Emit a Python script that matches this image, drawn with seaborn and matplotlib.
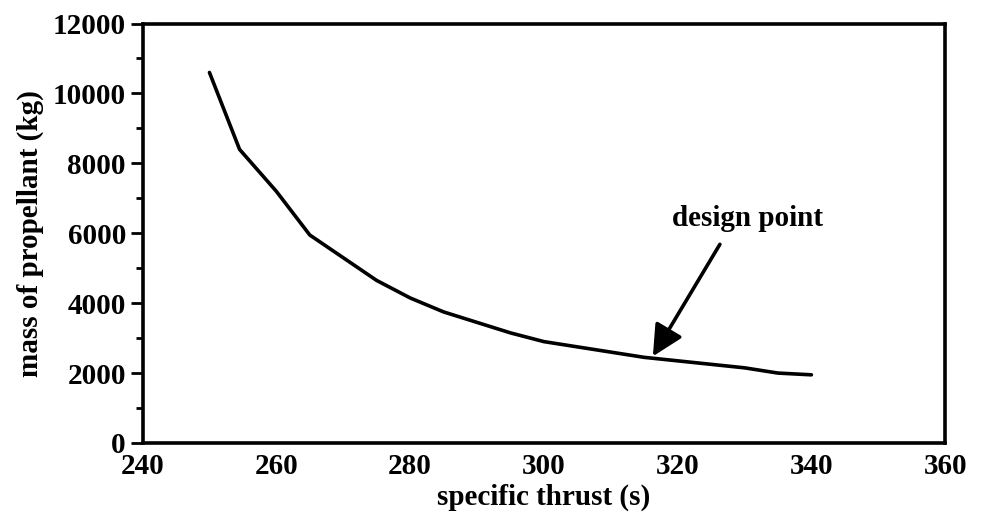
import pandas as pd
import matplotlib.pyplot as plt
import matplotlib.ticker as ticker
import seaborn as sns

# values
thrust = [250, 254.5, 260, 265, 270, 275, 280, 285, 290, 295, 300,
          305, 310, 315, 320, 325, 330, 335, 340]
propellant = [10600, 8400, 7200, 5950, 5300, 4650, 4150, 3750, 3450, 3150, 2900,
              2750, 2600, 2450, 2350, 2250, 2150, 2000, 1950]
x_ticks = [240, 260, 280, 300, 320, 340, 360]
y_ticks = [0, 2000, 4000, 6000, 8000, 10000, 12000]
design_pt = (316.3, 2480)
label_pt = (330.4, 6050)

df = pd.DataFrame({'thrust': thrust, 'propellant': propellant})

sns.set_style("ticks")
plt.rcParams['font.family'] = ['Liberation Serif', 'DejaVu Serif']
plt.rcParams['font.weight'] = 'bold'
plt.rcParams['text.color'] = 'black'
plt.rcParams['xtick.color'] = 'black'
plt.rcParams['ytick.color'] = 'black'
plt.rcParams['axes.labelcolor'] = 'black'

fig, ax = plt.subplots(figsize=(9.97, 5.23), dpi=100)
fig.subplots_adjust(left=0.143, right=0.948, top=0.955, bottom=0.153)

sns.lineplot(data=df, x='thrust', y='propellant', ax=ax, color='black', lw=2.6)

ax.set_xlim(240, 360)
ax.set_ylim(0, 12000)
ax.set_xticks(x_ticks)
ax.set_yticks(y_ticks)
ax.yaxis.set_minor_locator(ticker.MultipleLocator(1000))
ax.tick_params(axis='y', which='major', length=9, width=2, labelsize=21, pad=3)
ax.tick_params(axis='y', which='minor', length=5, width=2)
ax.tick_params(axis='x', length=0, labelsize=21, pad=7)
for s in ax.spines.values():
    s.set_linewidth(2.6)
    s.set_color('black')
    s.set_visible(True)

ax.set_xlabel("specific thrust (s)", fontsize=21, fontweight='bold', labelpad=3)
ax.set_ylabel("mass of propellant (kg)", fontsize=21, fontweight='bold', labelpad=6)

ax.annotate("design point", xy=design_pt, xytext=label_pt,
            ha='center', va='bottom', fontsize=21, fontweight='bold',
            arrowprops=dict(arrowstyle='-|>,head_length=0.9,head_width=0.45',
                            color='black', lw=2.6, shrinkA=8, shrinkB=0,
                            relpos=(0.37, 0)))

fig.savefig("out.png", dpi=100)
